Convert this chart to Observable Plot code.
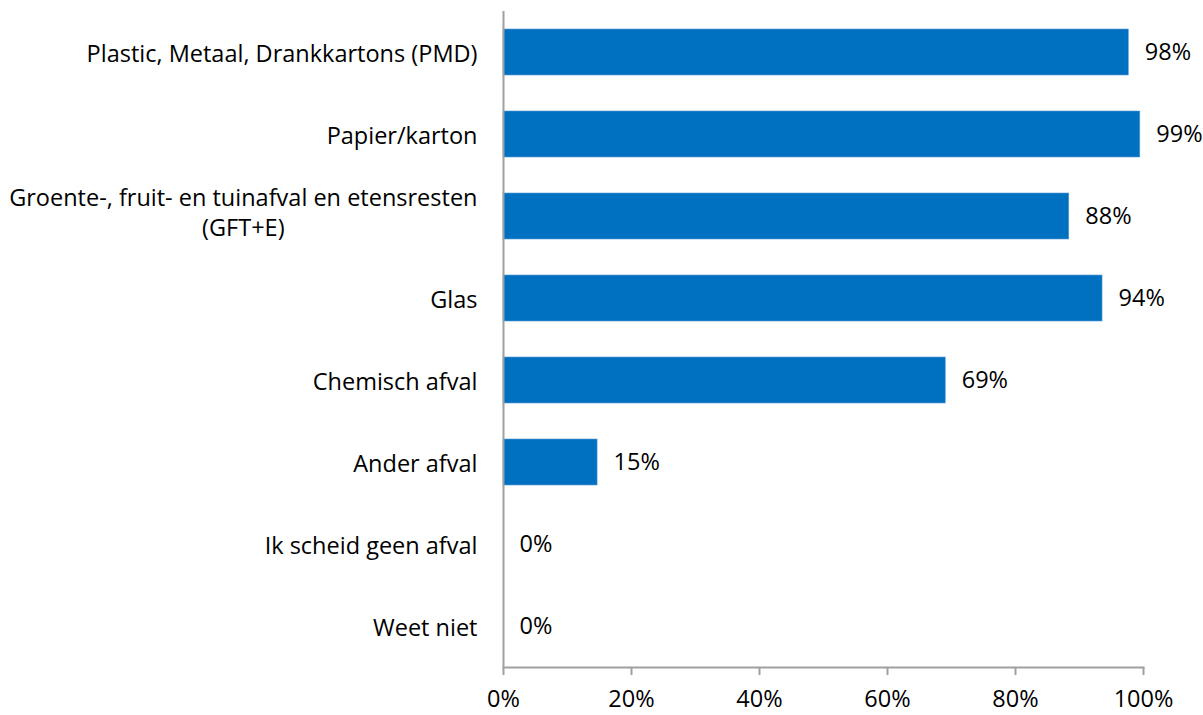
<!DOCTYPE html>
<html>
<head>
<meta charset="utf-8">
<script src="https://cdn.jsdelivr.net/npm/d3@7"></script>
<script src="https://cdn.jsdelivr.net/npm/@observablehq/plot@0.6"></script>
<style>
  html, body { margin: 0; padding: 0; background: #fff; }
  #chart svg { display: block; font-family: "Open Sans", sans-serif; }
</style>
</head>
<body>
<div id="chart"></div>
<script>
const categories = [
  "Plastic, Metaal, Drankkartons (PMD)",
  "Papier/karton",
  "Groente-, fruit- en tuinafval en etensresten\n(GFT+E)",
  "Glas",
  "Chemisch afval",
  "Ander afval",
  "Ik scheid geen afval",
  "Weet niet"
];
const values = [0.977, 0.995, 0.884, 0.936, 0.691, 0.147, 0, 0];
const valueLabels = ["98%", "99%", "88%", "94%", "69%", "15%", "0%", "0%"];
const xTicks = [0, 0.2, 0.4, 0.6, 0.8, 1.0];

const data = categories.map((c, i) => ({category: c, value: values[i], label: valueLabels[i]}));
const FS = 23.5;

const chart = Plot.plot({
  width: 1203,
  height: 715,
  marginLeft: 503,
  marginRight: 60,
  marginTop: 11,
  marginBottom: 48,
  style: {fontSize: FS + "px", fontFamily: "'Open Sans', sans-serif", color: "#000"},
  x: {domain: [0, 1], ticks: xTicks, tickFormat: d => Math.round(d * 100) + "%"},
  y: {domain: categories, paddingInner: 0.44, paddingOuter: 0.22},
  marks: [
    Plot.barX(data, {x: "value", y: "category", fill: "#0070C0", stroke: "#5B9BD5", strokeWidth: 0.6}),
    Plot.text(data, {x: "value", y: "category", text: "label", textAnchor: "start", dx: 16, fill: "#000", fontSize: FS}),
    Plot.ruleX([0], {stroke: "#A0A0A0", strokeWidth: 2}),
    Plot.frame({anchor: "bottom", stroke: "#A0A0A0", strokeWidth: 2}),
    Plot.axisX({ticks: xTicks, tickFormat: d => Math.round(d * 100) + "%", tickSize: 8, tickPadding: 15, stroke: "#A0A0A0", strokeWidth: 2, label: null, fill: "#000", fontSize: FS}),
    Plot.axisY({tickSize: 0, tickPadding: 26, label: null, fill: "#000", fontSize: FS, lineHeight: 1.28})
  ]
});
document.getElementById("chart").appendChild(chart);

// center the wrapped second line under the first and space the lines as in the reference
chart.querySelectorAll("g[aria-label='y-axis tick label'] text").forEach(t => {
  const spans = t.querySelectorAll("tspan");
  if (spans.length > 1) {
    const w = spans[0].getComputedTextLength();
    t.setAttribute("text-anchor", "middle");
    spans.forEach(s => s.setAttribute("x", -w / 2));
    spans[0].setAttribute("dy", "-0.2em");
    for (let i = 1; i < spans.length; i++) spans[i].setAttribute("dy", "1.28em");
  }
});
</script>
</body>
</html>
